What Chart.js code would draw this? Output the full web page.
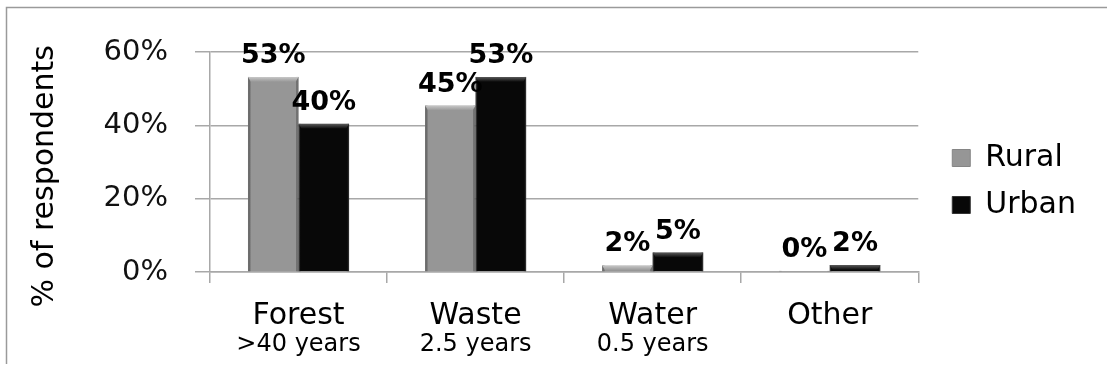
<!DOCTYPE html>
<html><head><meta charset="utf-8">
<script src="https://cdn.jsdelivr.net/npm/chart.js@4.4.1/dist/chart.umd.min.js"></script>
<style>html,body{margin:0;padding:0;background:#fff;} #wrap{width:1107px;height:374px;position:relative;}</style>
</head><body><div id="wrap"><canvas id="c" width="1107" height="374"></canvas></div>
<script>
const categories = ['Forest', 'Waste', 'Water', 'Other'];
const subLabels = ['>40 years', '2.5 years', '0.5 years', ''];
const seriesNames = ['Rural', 'Urban'];
const ruralValues = [53.2, 45.4, 1.8, 0.3];
const urbanValues = [40.4, 53.2, 5.3, 1.9];
const yTickValues = [0, 20, 40, 60];

const FONT = 'DejaVu Sans';
const GRID = '#a8a8a8';
const bevelStyles = [
  { top: '#c8c8c8', side: '#7e7e7e' },
  { top: '#5a5a5a', side: '#2c2c2c' }
];

const frame = {
  id: 'frame',
  beforeDraw(chart) {
    const ctx = chart.ctx;
    ctx.save();
    ctx.fillStyle = '#fff';
    ctx.fillRect(0, 0, chart.width, chart.height);
    ctx.strokeStyle = '#9a9a9a';
    ctx.lineWidth = 1.5;
    ctx.beginPath();
    ctx.moveTo(6.5, 364);
    ctx.lineTo(6.5, 7.5);
    ctx.lineTo(chart.width, 7.5);
    ctx.stroke();
    ctx.restore();
  }
};

const valueLabels = {
  id: 'valueLabels',
  afterDatasetsDraw(chart) {
    const ctx = chart.ctx;
    ctx.save();
    // bevel shading on bars
    chart.data.datasets.forEach((ds, di) => {
      const meta = chart.getDatasetMeta(di);
      const st = bevelStyles[di];
      meta.data.forEach((bar) => {
        const l = bar.x - bar.width / 2, r = bar.x + bar.width / 2;
        const t = bar.y, b = bar.base, h = b - t;
        if (h <= 0) return;
        const s = Math.min(3, bar.width / 4);
        const g = ctx.createLinearGradient(l, 0, l + s, 0);
        g.addColorStop(0, st.side); g.addColorStop(1, 'rgba(0,0,0,0)');
        ctx.fillStyle = g; ctx.fillRect(l, t, s, h);
        const g2 = ctx.createLinearGradient(r, 0, r - s, 0);
        g2.addColorStop(0, st.side); g2.addColorStop(1, 'rgba(0,0,0,0)');
        ctx.fillStyle = g2; ctx.fillRect(r - s, t, s, h);
        const th = Math.min(5, h);
        const g3 = ctx.createLinearGradient(0, t, 0, t + th);
        g3.addColorStop(0, st.top); g3.addColorStop(1, ds.backgroundColor);
        ctx.fillStyle = g3;
        ctx.beginPath();
        ctx.moveTo(l, t); ctx.lineTo(r, t); ctx.lineTo(r - s, t + th); ctx.lineTo(l + s, t + th); ctx.closePath();
        ctx.fill();
      });
    });
    ctx.font = 'bold 27px "' + FONT + '"';
    ctx.fillStyle = '#000';
    ctx.textAlign = 'center';
    ctx.textBaseline = 'alphabetic';
    chart.data.datasets.forEach((ds, di) => {
      const meta = chart.getDatasetMeta(di);
      meta.data.forEach((bar, i) => {
        ctx.fillText(Math.round(ds.data[i]) + '%', bar.x, bar.y - 14);
      });
    });
    ctx.restore();
  }
};

new Chart(document.getElementById('c'), {
  type: 'bar',
  data: {
    labels: categories,
    datasets: [
      { label: seriesNames[0], data: ruralValues, backgroundColor: '#969696', borderColor: '#858585', borderWidth: 1 },
      { label: seriesNames[1], data: urbanValues, backgroundColor: '#080808', borderColor: '#333333', borderWidth: 1 }
    ]
  },
  options: {
    responsive: false,
    animation: false,
    devicePixelRatio: 1,
    datasets: { bar: { categoryPercentage: 0.571, barPercentage: 1.0 } },
    layout: { padding: { top: 5, bottom: 16, left: 10, right: 21 } },
    plugins: {
      legend: {
        position: 'right',
        labels: {
          font: { family: FONT, size: 30 },
          color: '#000',
          boxWidth: 18,
          boxHeight: 17,
          padding: 17
        }
      },
      tooltip: { enabled: false },
      title: { display: false }
    },
    scales: {
      x: {
        type: 'category',
        offset: true,
        grid: { display: true, offset: true, drawOnChartArea: false, drawTicks: true, tickLength: 11, color: GRID, lineWidth: 1.5 },
        border: { display: true, color: GRID, width: 1.5 },
        ticks: { font: { family: FONT, size: 30, lineHeight: 1 }, color: '#000', padding: 18, maxRotation: 0, autoSkip: false },
        afterFit: s => { s.height = 56; }
      },
      x2: {
        type: 'category',
        position: 'bottom',
        labels: subLabels,
        offset: true,
        grid: { display: false, drawTicks: false },
        border: { display: false },
        ticks: { font: { family: FONT, size: 24, lineHeight: 1 }, color: '#000', padding: 5, maxRotation: 0, autoSkip: false },
        afterFit: s => { s.height = 30; }
      },
      xTop: {
        type: 'category',
        position: 'top',
        labels: categories,
        display: true,
        grid: { display: false, drawTicks: false },
        border: { display: false },
        ticks: { display: false },
        afterFit: s => { s.height = 47; }
      },
      y: {
        min: 0,
        max: 60,
        afterBuildTicks: s => { s.ticks = yTickValues.map(v => ({ value: v })); },
        grid: { color: GRID, lineWidth: 1.5, drawTicks: true, tickLength: 15 },
        border: { display: true, color: GRID, width: 1.5 },
        ticks: { font: { family: FONT, size: 29 }, color: '#111', padding: 27, callback: v => v + '%' },
        title: { display: true, text: '% of respondents\u00A0\u00A0\u00A0', font: { family: FONT, size: 30 }, color: '#000', padding: { top: 17, bottom: 0 } },
        afterFit: s => { s.width = 200; }
      },
      yR: {
        type: 'linear',
        position: 'right',
        display: true,
        grid: { display: false, drawTicks: false },
        border: { display: false },
        ticks: { display: false },
        afterFit: s => { s.width = 17; }
      }
    }
  },
  plugins: [frame, valueLabels]
});
</script>
</body></html>
